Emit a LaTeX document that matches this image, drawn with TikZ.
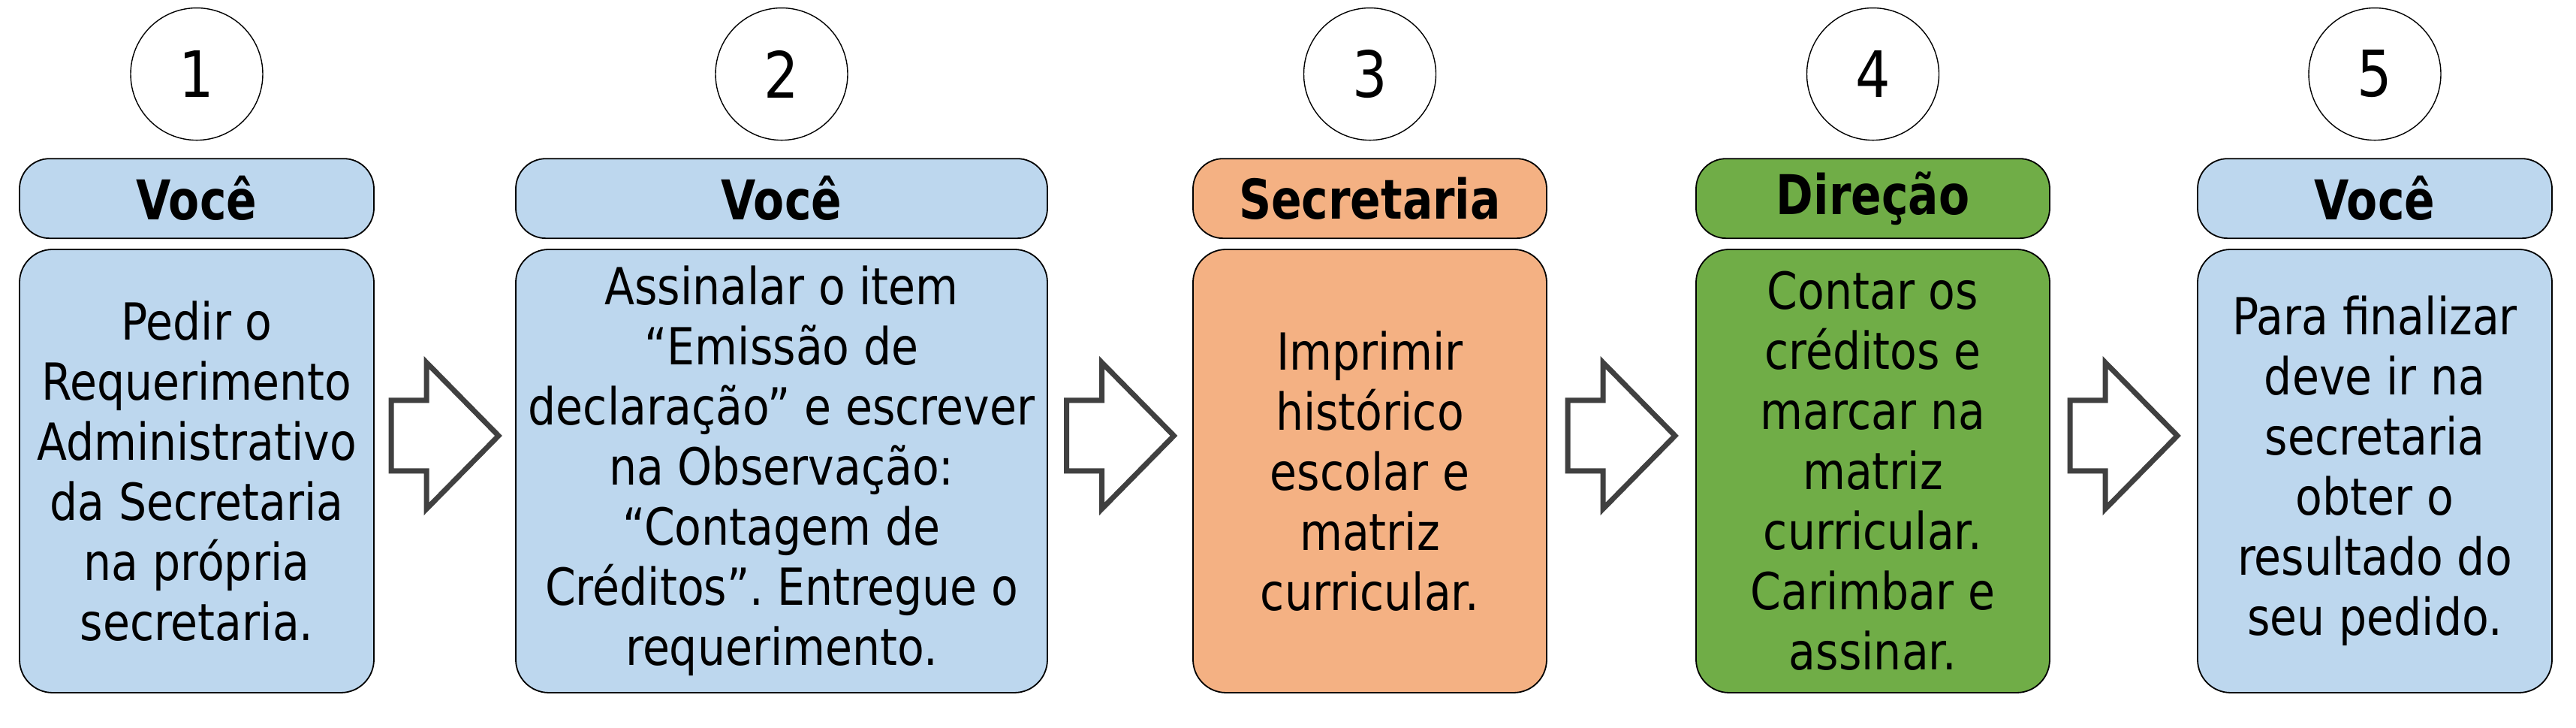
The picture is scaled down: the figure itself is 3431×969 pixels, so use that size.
\documentclass[tikz,border=0pt]{standalone}
\usepackage{fontspec}
\setmainfont{DejaVu Sans}[FakeStretch=0.86]
\newfontfamily\quemfont{DejaVu Sans}[FakeStretch=0.82]
\usetikzlibrary{positioning}
\usetikzlibrary{calc}
\frenchspacing

\definecolor{azul}{HTML}{BDD7EE}
\definecolor{laranja}{HTML}{F4B183}
\definecolor{verde}{HTML}{70AD47}
\definecolor{cinza}{HTML}{404040}

\tikzset{
  num/.style={circle,draw,line width=0.35pt,minimum size=44pt,inner sep=0pt,
    font=\fontsize{21.25pt}{24pt}\selectfont},
  quem/.style={draw,line width=0.45pt,rounded corners=10pt,minimum height=26.5pt,
    inner sep=0pt,font=\fontsize{18.25pt}{22pt}\selectfont\quemfont\bfseries},
  etapa/.style={draw,line width=0.45pt,rounded corners=11pt,minimum height=147.5pt,
    inner sep=0pt,align=center,font=\fontsize{17pt}{20pt}\selectfont},
  seta/.style={draw=cinza,line width=1.75pt,fill=white,line join=miter}
}

\begin{document}
\begin{tikzpicture}[x=0.25pt,y=-0.25pt]
  \useasboundingbox (0,0) rectangle (3431,969);

  % etapas
  \node[etapa,fill=azul,minimum width=118pt] (etapa1) at (262,627)
    {Pedir o\\Requerimento\\Administrativo\\da Secretaria\\na própria\\secretaria.};
  \node[etapa,fill=azul,minimum width=177pt] (etapa2) at (1041,627)
    {Assinalar o item\\“Emissão de\\declaração” e escrever\\na Observação:\\“Contagem de\\Créditos”. Entregue o\\requerimento.};
  \node[etapa,fill=laranja,minimum width=117.75pt] (etapa3) at (1824.5,627)
    {Imprimir\\histórico\\escolar e\\matriz\\curricular.};
  \node[etapa,fill=verde,minimum width=117.75pt] (etapa4) at (2494.5,627)
    {Contar os\\créditos e\\marcar na\\matriz\\curricular.\\Carimbar e\\assinar.};
  \node[etapa,fill=azul,minimum width=118pt] (etapa5) at (3163,627)
    {Para finalizar\\deve ir na\\secretaria\\obter o\\resultado do\\seu pedido.};

  % quem faz
  \node[quem,fill=azul,minimum width=118pt,above=3.25pt of etapa1] (quem1) {Você};
  \node[quem,fill=azul,minimum width=177pt,above=3.25pt of etapa2] (quem2) {Você};
  \node[quem,fill=laranja,minimum width=117.75pt,above=3.25pt of etapa3] (quem3) {Secretaria};
  \node[quem,fill=verde,minimum width=117.75pt,above=3.25pt of etapa4] (quem4) {Direção};
  \node[quem,fill=azul,minimum width=118pt,above=3.25pt of etapa5] (quem5) {Você};

  % numeros
  \node[num,above=5.75pt of quem1] (num1) {1};
  \node[num,above=5.75pt of quem2] (num2) {2};
  \node[num,above=5.75pt of quem3] (num3) {3};
  \node[num,above=5.75pt of quem4] (num4) {4};
  \node[num,above=5.75pt of quem5] (num5) {5};

  % setas
  \foreach \a/\b in {1/2,2/3,3/4,4/5}{
    \coordinate (meio\a) at ($(etapa\a.east)!0.5!(etapa\b.west)+(0,-47)$);
    \draw[seta] (meio\a) ++(-71.5,-47) -- ++(47,0) -- ++(0,-50.5) -- ++(96,97.5)
      -- ++(-96,97.5) -- ++(0,-50.5) -- ++(-47,0) -- cycle;
  }
\end{tikzpicture}
\end{document}
